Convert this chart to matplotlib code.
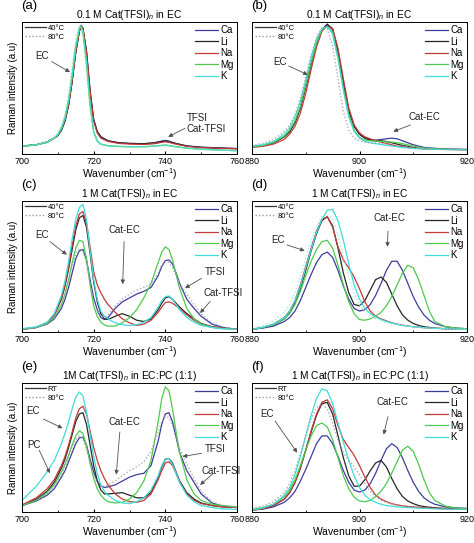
import matplotlib
matplotlib.use('Agg')
import matplotlib.pyplot as plt
from matplotlib.lines import Line2D

plt.rcParams['font.family'] = 'Liberation Sans'
plt.rcParams['mathtext.fontset'] = 'custom'
plt.rcParams['mathtext.rm'] = 'Liberation Sans'
plt.rcParams['mathtext.it'] = 'Liberation Sans:italic'

# Data (normalised intensity, 0-1 of the panel height)
cations = ['Ca', 'Li', 'Na', 'Mg', 'K']
colors = ['#3d3d9e', '#262626', '#c23a3a', '#4ccb4c', '#40dcdc']

xa = [700, 704, 707, 709, 710, 711, 712, 713, 714, 715, 716, 716.5, 717, 718, 719, 720,
      721, 722, 724, 727, 730, 734, 737, 739, 740, 741, 743, 746, 750, 755, 760]
a_ca = [0.06, 0.07, 0.09, 0.12, 0.14, 0.18, 0.25, 0.37, 0.55, 0.77, 0.93, 0.975, 0.95, 0.77, 0.47, 0.26,
        0.17, 0.13, 0.10, 0.085, 0.08, 0.078, 0.085, 0.098, 0.103, 0.098, 0.08, 0.062, 0.052, 0.046, 0.042]
a_li = [0.06, 0.07, 0.09, 0.12, 0.14, 0.18, 0.25, 0.37, 0.55, 0.77, 0.93, 0.97, 0.955, 0.78, 0.48, 0.26,
        0.17, 0.13, 0.10, 0.085, 0.08, 0.078, 0.085, 0.095, 0.098, 0.093, 0.078, 0.06, 0.05, 0.045, 0.04]
a_na = [0.06, 0.07, 0.09, 0.12, 0.145, 0.19, 0.26, 0.38, 0.56, 0.78, 0.93, 0.965, 0.95, 0.77, 0.47, 0.25,
        0.16, 0.12, 0.095, 0.08, 0.075, 0.072, 0.078, 0.088, 0.092, 0.088, 0.074, 0.058, 0.048, 0.043, 0.04]
a_mg = [0.058, 0.068, 0.088, 0.12, 0.145, 0.19, 0.27, 0.40, 0.59, 0.81, 0.95, 0.97, 0.93, 0.70, 0.38, 0.17,
        0.10, 0.075, 0.062, 0.057, 0.055, 0.055, 0.06, 0.066, 0.068, 0.065, 0.055, 0.045, 0.037, 0.03, 0.025]
a_k = [0.06, 0.07, 0.09, 0.12, 0.15, 0.20, 0.28, 0.41, 0.60, 0.82, 0.955, 0.965, 0.92, 0.69, 0.37, 0.17,
       0.10, 0.075, 0.063, 0.058, 0.056, 0.056, 0.06, 0.064, 0.066, 0.063, 0.054, 0.044, 0.036, 0.03, 0.025]
a_mg80 = [0.06, 0.07, 0.09, 0.125, 0.155, 0.21, 0.30, 0.45, 0.66, 0.86, 0.97, 0.96, 0.90, 0.63, 0.33, 0.15,
          0.09, 0.07, 0.06, 0.055, 0.053, 0.053, 0.058, 0.063, 0.065, 0.062, 0.053, 0.043, 0.035, 0.03, 0.025]

xb = [880, 882, 884, 886, 887, 888, 889, 890, 891, 892, 893, 894, 895, 896, 897, 898, 899, 900,
      901, 902, 903, 904, 905, 906, 907, 908, 910, 912, 915, 920]
b_ca = [0.055, 0.065, 0.085, 0.13, 0.17, 0.24, 0.35, 0.51, 0.68, 0.83, 0.94, 0.985, 0.94, 0.77, 0.53, 0.33, 0.21, 0.15,
        0.12, 0.11, 0.105, 0.11, 0.115, 0.12, 0.115, 0.10, 0.07, 0.05, 0.04, 0.035]
b_li = [0.055, 0.065, 0.085, 0.13, 0.17, 0.24, 0.35, 0.51, 0.68, 0.83, 0.94, 0.98, 0.95, 0.78, 0.54, 0.33, 0.21, 0.15,
        0.12, 0.105, 0.10, 0.10, 0.095, 0.085, 0.075, 0.065, 0.05, 0.04, 0.035, 0.033]
b_na = [0.05, 0.058, 0.075, 0.11, 0.15, 0.21, 0.31, 0.46, 0.64, 0.81, 0.93, 0.97, 0.95, 0.80, 0.57, 0.35, 0.22, 0.16,
        0.13, 0.115, 0.10, 0.09, 0.08, 0.07, 0.06, 0.055, 0.045, 0.04, 0.035, 0.033]
b_mg = [0.055, 0.065, 0.087, 0.135, 0.18, 0.25, 0.36, 0.52, 0.69, 0.84, 0.94, 0.965, 0.92, 0.74, 0.50, 0.30, 0.18, 0.125,
        0.105, 0.10, 0.097, 0.095, 0.092, 0.09, 0.085, 0.078, 0.06, 0.045, 0.037, 0.033]
b_k = [0.06, 0.07, 0.095, 0.15, 0.20, 0.28, 0.40, 0.56, 0.73, 0.87, 0.95, 0.965, 0.91, 0.72, 0.48, 0.28, 0.17, 0.12,
       0.095, 0.085, 0.078, 0.072, 0.066, 0.06, 0.055, 0.05, 0.042, 0.038, 0.035, 0.033]
b_li80 = [0.065, 0.08, 0.11, 0.17, 0.22, 0.30, 0.42, 0.58, 0.75, 0.88, 0.96, 0.95, 0.82, 0.57, 0.32, 0.18, 0.12, 0.10,
          0.09, 0.085, 0.083, 0.08, 0.075, 0.07, 0.065, 0.06, 0.05, 0.043, 0.037, 0.033]

xc = [700, 704, 707, 709, 711, 712, 713, 714, 715, 716, 717, 718, 719, 720, 721, 722, 723, 724, 726,
      728, 730, 732, 734, 736, 738, 739, 740, 741, 742, 743, 744, 746, 748, 750, 753, 756, 760]
c_ca = [0.02, 0.035, 0.06, 0.10, 0.18, 0.25, 0.34, 0.45, 0.56, 0.62, 0.63, 0.55, 0.40, 0.26, 0.17, 0.11, 0.095, 0.11, 0.18,
        0.23, 0.26, 0.29, 0.31, 0.34, 0.43, 0.50, 0.545, 0.55, 0.52, 0.45, 0.37, 0.25, 0.18, 0.12, 0.06, 0.035, 0.02]
c_li = [0.02, 0.035, 0.07, 0.13, 0.25, 0.35, 0.48, 0.63, 0.78, 0.87, 0.89, 0.80, 0.60, 0.38, 0.23, 0.14, 0.10, 0.095, 0.12,
        0.14, 0.12, 0.09, 0.08, 0.10, 0.17, 0.22, 0.26, 0.27, 0.25, 0.22, 0.19, 0.14, 0.10, 0.065, 0.04, 0.03, 0.02]
c_na = [0.02, 0.035, 0.07, 0.13, 0.26, 0.36, 0.50, 0.66, 0.81, 0.90, 0.92, 0.83, 0.65, 0.46, 0.36, 0.30, 0.25, 0.21, 0.15,
        0.10, 0.07, 0.05, 0.06, 0.09, 0.15, 0.19, 0.225, 0.23, 0.22, 0.20, 0.18, 0.13, 0.09, 0.06, 0.04, 0.03, 0.02]
c_mg = [0.02, 0.035, 0.065, 0.11, 0.21, 0.29, 0.40, 0.53, 0.64, 0.70, 0.69, 0.56, 0.36, 0.20, 0.12, 0.075, 0.055, 0.045, 0.045,
        0.07, 0.11, 0.17, 0.26, 0.37, 0.53, 0.61, 0.65, 0.63, 0.55, 0.44, 0.33, 0.18, 0.10, 0.06, 0.035, 0.025, 0.02]
c_k = [0.025, 0.04, 0.075, 0.14, 0.28, 0.39, 0.54, 0.71, 0.86, 0.95, 0.975, 0.86, 0.62, 0.40, 0.25, 0.16, 0.12, 0.10, 0.07,
       0.055, 0.05, 0.055, 0.075, 0.11, 0.19, 0.24, 0.27, 0.275, 0.25, 0.21, 0.17, 0.11, 0.075, 0.05, 0.035, 0.025, 0.02]
c_ca80 = [0.02, 0.035, 0.065, 0.11, 0.20, 0.28, 0.38, 0.50, 0.60, 0.64, 0.62, 0.52, 0.37, 0.24, 0.16, 0.12, 0.11, 0.13, 0.20,
          0.25, 0.29, 0.32, 0.34, 0.37, 0.45, 0.51, 0.54, 0.53, 0.49, 0.43, 0.37, 0.29, 0.21, 0.14, 0.07, 0.04, 0.02]

xd = [880, 882, 884, 886, 887, 888, 889, 890, 891, 892, 893, 894, 895, 896, 897, 898, 899, 900,
      901, 902, 903, 904, 905, 906, 907, 908, 909, 910, 911, 912, 913, 914, 916, 918, 920]
d_ca = [0.02, 0.03, 0.045, 0.08, 0.11, 0.16, 0.24, 0.34, 0.44, 0.53, 0.59, 0.61, 0.57, 0.47, 0.35, 0.25, 0.18, 0.16,
        0.17, 0.21, 0.28, 0.37, 0.47, 0.54, 0.54, 0.47, 0.37, 0.27, 0.19, 0.13, 0.09, 0.065, 0.04, 0.03, 0.025]
d_li = [0.02, 0.033, 0.055, 0.10, 0.15, 0.22, 0.33, 0.47, 0.62, 0.75, 0.85, 0.88, 0.81, 0.64, 0.45, 0.30, 0.21, 0.20,
        0.24, 0.32, 0.40, 0.42, 0.38, 0.29, 0.20, 0.13, 0.09, 0.065, 0.05, 0.04, 0.035, 0.03, 0.025, 0.022, 0.02]
d_na = [0.02, 0.035, 0.06, 0.11, 0.16, 0.24, 0.36, 0.50, 0.64, 0.77, 0.86, 0.88, 0.80, 0.65, 0.55, 0.49, 0.42, 0.33,
        0.23, 0.16, 0.12, 0.10, 0.085, 0.07, 0.06, 0.052, 0.046, 0.04, 0.036, 0.033, 0.03, 0.028, 0.025, 0.022, 0.02]
d_mg = [0.02, 0.035, 0.055, 0.10, 0.14, 0.21, 0.31, 0.43, 0.54, 0.63, 0.69, 0.70, 0.64, 0.51, 0.36, 0.23, 0.14, 0.095,
        0.09, 0.10, 0.12, 0.15, 0.20, 0.27, 0.36, 0.45, 0.51, 0.49, 0.40, 0.28, 0.16, 0.08, 0.04, 0.03, 0.025]
d_k = [0.02, 0.035, 0.06, 0.11, 0.16, 0.24, 0.35, 0.49, 0.63, 0.76, 0.86, 0.93, 0.935, 0.85, 0.70, 0.52, 0.36, 0.25,
       0.18, 0.14, 0.115, 0.095, 0.08, 0.068, 0.058, 0.05, 0.045, 0.04, 0.036, 0.033, 0.03, 0.028, 0.025, 0.022, 0.02]
d_k80 = [0.03, 0.05, 0.085, 0.15, 0.21, 0.30, 0.42, 0.56, 0.70, 0.81, 0.88, 0.90, 0.86, 0.74, 0.58, 0.42, 0.30, 0.21,
         0.15, 0.12, 0.10, 0.085, 0.072, 0.062, 0.055, 0.048, 0.043, 0.04, 0.036, 0.033, 0.03, 0.028, 0.025, 0.022, 0.02]

xe = xc
e_ca = [0.05, 0.085, 0.13, 0.18, 0.27, 0.32, 0.39, 0.46, 0.53, 0.575, 0.58, 0.52, 0.41, 0.31, 0.24, 0.20, 0.19, 0.195, 0.21,
        0.24, 0.27, 0.29, 0.30, 0.36, 0.55, 0.68, 0.76, 0.77, 0.70, 0.58, 0.46, 0.32, 0.23, 0.14, 0.07, 0.045, 0.035]
e_li = [0.05, 0.10, 0.16, 0.23, 0.34, 0.41, 0.50, 0.60, 0.70, 0.76, 0.77, 0.68, 0.52, 0.36, 0.24, 0.17, 0.14, 0.14, 0.145,
        0.15, 0.13, 0.11, 0.11, 0.15, 0.27, 0.35, 0.41, 0.415, 0.38, 0.31, 0.24, 0.15, 0.10, 0.07, 0.05, 0.04, 0.035]
e_na = [0.055, 0.11, 0.18, 0.25, 0.36, 0.43, 0.52, 0.62, 0.73, 0.80, 0.82, 0.76, 0.63, 0.50, 0.40, 0.32, 0.26, 0.21, 0.14,
        0.10, 0.08, 0.075, 0.09, 0.14, 0.25, 0.32, 0.38, 0.39, 0.36, 0.30, 0.23, 0.14, 0.09, 0.065, 0.05, 0.04, 0.035]
e_mg = [0.05, 0.09, 0.15, 0.21, 0.31, 0.37, 0.44, 0.52, 0.59, 0.63, 0.61, 0.51, 0.38, 0.26, 0.18, 0.13, 0.10, 0.08, 0.07,
        0.075, 0.10, 0.15, 0.24, 0.40, 0.70, 0.88, 0.97, 0.94, 0.80, 0.62, 0.46, 0.25, 0.14, 0.09, 0.06, 0.05, 0.04]
e_k = [0.09, 0.20, 0.31, 0.40, 0.53, 0.61, 0.70, 0.80, 0.89, 0.93, 0.90, 0.78, 0.60, 0.43, 0.30, 0.21, 0.16, 0.13, 0.09,
       0.07, 0.065, 0.08, 0.11, 0.17, 0.28, 0.36, 0.41, 0.415, 0.37, 0.30, 0.23, 0.13, 0.08, 0.05, 0.035, 0.025, 0.02]
e_ca80 = [0.05, 0.09, 0.14, 0.20, 0.29, 0.35, 0.42, 0.50, 0.56, 0.59, 0.57, 0.49, 0.38, 0.29, 0.23, 0.20, 0.20, 0.21, 0.24,
          0.28, 0.32, 0.35, 0.39, 0.47, 0.62, 0.70, 0.74, 0.73, 0.67, 0.58, 0.49, 0.37, 0.26, 0.16, 0.08, 0.05, 0.035]

xf = xd
f_ca = [0.015, 0.022, 0.04, 0.075, 0.11, 0.16, 0.24, 0.33, 0.43, 0.53, 0.59, 0.59, 0.53, 0.43, 0.32, 0.23, 0.17, 0.155,
        0.17, 0.22, 0.30, 0.40, 0.49, 0.53, 0.50, 0.42, 0.32, 0.23, 0.16, 0.11, 0.08, 0.06, 0.04, 0.032, 0.028]
f_li = [0.015, 0.025, 0.05, 0.10, 0.15, 0.23, 0.34, 0.48, 0.62, 0.75, 0.84, 0.85, 0.76, 0.59, 0.42, 0.28, 0.20, 0.20,
        0.25, 0.32, 0.38, 0.40, 0.35, 0.26, 0.18, 0.12, 0.085, 0.065, 0.05, 0.042, 0.037, 0.033, 0.028, 0.025, 0.022]
f_na = [0.015, 0.025, 0.05, 0.10, 0.15, 0.23, 0.34, 0.48, 0.63, 0.76, 0.85, 0.87, 0.80, 0.67, 0.56, 0.50, 0.44, 0.36,
        0.27, 0.19, 0.13, 0.10, 0.08, 0.065, 0.055, 0.048, 0.043, 0.04, 0.036, 0.033, 0.03, 0.028, 0.025, 0.022, 0.02]
f_mg = [0.02, 0.035, 0.06, 0.12, 0.17, 0.25, 0.36, 0.48, 0.59, 0.67, 0.69, 0.66, 0.56, 0.42, 0.28, 0.18, 0.115, 0.085,
        0.08, 0.09, 0.12, 0.16, 0.22, 0.30, 0.39, 0.48, 0.51, 0.47, 0.37, 0.25, 0.15, 0.09, 0.045, 0.03, 0.025]
f_k = [0.015, 0.03, 0.06, 0.13, 0.19, 0.29, 0.43, 0.59, 0.75, 0.88, 0.955, 0.94, 0.84, 0.69, 0.54, 0.40, 0.28, 0.19,
       0.13, 0.095, 0.075, 0.06, 0.05, 0.045, 0.04, 0.037, 0.034, 0.032, 0.03, 0.028, 0.026, 0.025, 0.022, 0.02, 0.02]
f_na80 = [0.03, 0.045, 0.08, 0.15, 0.22, 0.32, 0.45, 0.59, 0.72, 0.81, 0.84, 0.80, 0.69, 0.56, 0.46, 0.40, 0.35, 0.29,
          0.22, 0.16, 0.12, 0.09, 0.075, 0.062, 0.053, 0.047, 0.042, 0.039, 0.036, 0.033, 0.03, 0.028, 0.025, 0.022, 0.02]

fig = plt.figure(figsize=(4.74, 5.43), dpi=100)
W, H = 474.0, 543.0


def make_ax(left, top, bottom):
    return fig.add_axes([left / W, 1 - bottom / H, 215 / W, (bottom - top) / H])


def arrow(ax, tail, head):
    ax.annotate('', xy=head, xytext=tail,
                arrowprops=dict(arrowstyle='-|>', color='#505050', lw=0.6,
                                mutation_scale=6, shrinkA=0, shrinkB=0))


def panel(ax, x, curves, dotted, dcolor, xlim, majors, minors, title, letter, temps, left_col):
    for y, c, name in zip(curves, colors, cations):
        ax.plot(x, y, color=c, lw=0.9, label=name)
    ax.plot(x, dotted, color=dcolor, lw=1.0, ls=(0, (1, 1.5)), alpha=0.8)
    ax.set_xlim(xlim)
    ax.set_ylim(0, 1.0)
    ax.set_yticks([])
    ax.set_xticks(majors)
    ax.set_xticks(minors, minor=True)
    ax.tick_params(axis='x', which='both', direction='in', labelsize=6.5, pad=2)
    ax.tick_params(axis='x', which='major', length=2.5)
    ax.tick_params(axis='x', which='minor', length=1.5)
    for s in ax.spines.values():
        s.set_linewidth(0.7)
    ax.set_xlabel('Wavenumber (cm$^{-1}$)', fontsize=7.5, labelpad=0)
    if left_col:
        ax.set_ylabel('Raman intensity (a.u)', fontsize=7, labelpad=3)
    ax.set_title(title, fontsize=7.3, pad=3)
    ax.text(-0.005, 1.075, letter, transform=ax.transAxes, fontsize=9.5, va='bottom', ha='left')
    leg1 = ax.legend(loc='upper right', frameon=False, fontsize=7, handlelength=2.4,
                     handletextpad=0.2, labelspacing=0.15, borderaxespad=0.15, borderpad=0.2)
    ax.add_artist(leg1)
    h = [Line2D([], [], color='#333333', lw=0.9),
         Line2D([], [], color='#9a9a9a', lw=1.0, ls=(0, (1, 1.5)))]
    ax.legend(h, temps, loc='upper left', frameon=False, fontsize=5.5, handlelength=2.8,
              handletextpad=0.2, labelspacing=0.2, borderaxespad=0.15, borderpad=0.2)


def label(ax, s, xy, ha='center'):
    ax.text(xy[0], xy[1], s, fontsize=7, ha=ha, va='center', color='#222222')


ax = make_ax(22, 22, 154)
panel(ax, xa, [a_ca, a_li, a_na, a_mg, a_k], a_mg80, '#7fdc7f', (700, 760), [700, 720, 740, 760],
      [710, 730, 750], '0.1 M Cat(TFSI)$_n$ in EC', '(a)', ['40°C', '80°C'], True)
label(ax, 'EC', (705.5, 0.74))
arrow(ax, (708.3, 0.70), (713.4, 0.62))
label(ax, 'TFSI\nCat-TFSI', (746.0, 0.23), ha='left')
arrow(ax, (745.5, 0.195), (740.8, 0.13))

ax = make_ax(252, 22, 154)
panel(ax, xb, [b_ca, b_li, b_na, b_mg, b_k], b_li80, '#9a9a9a', (880, 920), [880, 900, 920],
      [890, 910], '0.1 M Cat(TFSI)$_n$ in EC', '(b)', ['40°C', '80°C'], False)
label(ax, 'EC', (885.3, 0.70))
arrow(ax, (886.8, 0.667), (890.4, 0.60))
label(ax, 'Cat-EC', (912.0, 0.28))
arrow(ax, (909.5, 0.22), (906.3, 0.17))

ax = make_ax(22, 201, 332)
panel(ax, xc, [c_ca, c_li, c_na, c_mg, c_k], c_ca80, '#9a9aba', (700, 760), [700, 720, 740, 760],
      [710, 730, 750], '1 M Cat(TFSI)$_n$ in EC', '(c)', ['40°C', '80°C'], True)
label(ax, 'EC', (705.5, 0.74))
arrow(ax, (707.8, 0.69), (712.5, 0.59))
label(ax, 'Cat-EC', (728.7, 0.78))
arrow(ax, (728.5, 0.69), (728.1, 0.365))
label(ax, 'TFSI', (753.9, 0.46))
arrow(ax, (750.1, 0.41), (745.5, 0.335))
label(ax, 'Cat-TFSI', (756.0, 0.30))
arrow(ax, (752.5, 0.233), (749.7, 0.145))

ax = make_ax(252, 201, 332)
panel(ax, xd, [d_ca, d_li, d_na, d_mg, d_k], d_k80, '#8fe6e6', (880, 920), [880, 900, 920],
      [890, 910], '1 M Cat(TFSI)$_n$ in EC', '(d)', ['40°C', '80°C'], False)
label(ax, 'EC', (884.9, 0.70))
arrow(ax, (886.5, 0.665), (889.8, 0.62))
label(ax, 'Cat-EC', (905.5, 0.87))
arrow(ax, (905.3, 0.77), (905.2, 0.65))

ax = make_ax(22, 383, 512)
panel(ax, xe, [e_ca, e_li, e_na, e_mg, e_k], e_ca80, '#9a9a9a', (700, 760), [700, 720, 740, 760],
      [710, 730, 750], '1M Cat(TFSI)$_n$ in EC:PC (1:1)', '(e)', ['RT', '80°C'], True)
label(ax, 'EC', (703.2, 0.78))
arrow(ax, (706.0, 0.72), (711.3, 0.65))
label(ax, 'PC', (703.2, 0.52))
arrow(ax, (704.8, 0.48), (707.8, 0.30))
label(ax, 'Cat-EC', (728.7, 0.70))
arrow(ax, (727.3, 0.62), (726.3, 0.29))
label(ax, 'TFSI', (753.9, 0.49))
arrow(ax, (750.1, 0.455), (744.8, 0.43))
label(ax, 'Cat-TFSI', (755.7, 0.32))
arrow(ax, (753.4, 0.30), (749.7, 0.21))

ax = make_ax(252, 383, 512)
panel(ax, xf, [f_ca, f_li, f_na, f_mg, f_k], f_na80, '#9a9a9a', (880, 920), [880, 900, 920],
      [890, 910], '1 M Cat(TFSI)$_n$ in EC:PC (1:1)', '(f)', ['RT', '80°C'], False)
label(ax, 'EC', (882.8, 0.76))
arrow(ax, (884.3, 0.705), (888.4, 0.46))
label(ax, 'Cat-EC', (906.1, 0.85))
arrow(ax, (905.3, 0.74), (904.5, 0.60))

plt.savefig('out.png', dpi=100)
